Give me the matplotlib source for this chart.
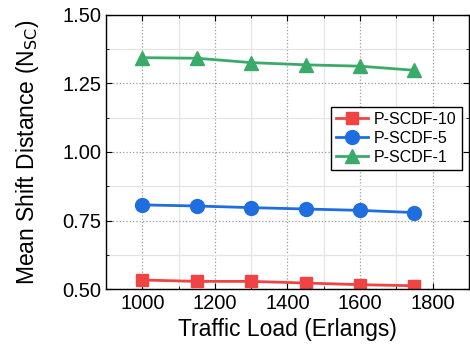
import matplotlib
matplotlib.use("Agg")
import matplotlib.pyplot as plt
from matplotlib.ticker import MultipleLocator

plt.rcParams['font.family'] = ['Liberation Sans', 'DejaVu Sans']

load = [1000, 1150, 1300, 1450, 1600, 1750]
p10 = [0.533, 0.528, 0.528, 0.522, 0.516, 0.512]
p5 = [0.807, 0.803, 0.797, 0.792, 0.787, 0.779]
p1 = [1.344, 1.342, 1.326, 1.318, 1.313, 1.298]
names = ['P-SCDF-10', 'P-SCDF-5', 'P-SCDF-1']

fig = plt.figure(figsize=(4.7, 3.47), dpi=100)
ax = fig.add_axes([0.2255, 0.167, 0.772, 0.79])

ax.plot(load, p10, color='#F04444', marker='s', ms=9, lw=2, label=names[0])
ax.plot(load, p5, color='#1E6EE0', marker='o', ms=10, lw=2, label=names[1])
ax.plot(load, p1, color='#3AAA68', marker='^', ms=10, lw=2, label=names[2])

ax.set_xlim(900, 1900)
ax.set_ylim(0.5, 1.5)
ax.xaxis.set_major_locator(MultipleLocator(200))
ax.xaxis.set_minor_locator(MultipleLocator(100))
ax.yaxis.set_major_locator(MultipleLocator(0.25))
ax.yaxis.set_minor_locator(MultipleLocator(0.125))
ax.set_xticks([1000, 1200, 1400, 1600, 1800])
ax.yaxis.set_major_formatter(matplotlib.ticker.FormatStrFormatter('%.2f'))

ax.grid(which='major', color='#999999', linestyle=':', linewidth=0.9)
ax.grid(which='minor', color='#e4e4e4', linestyle='-', linewidth=0.9)
ax.set_axisbelow(True)
ax.tick_params(which='both', direction='in', top=True, right=True, labelsize=14.5)
ax.tick_params(which='major', length=4)
ax.tick_params(which='minor', length=2.5)
for s in ax.spines.values():
    s.set_linewidth(1.0)

ax.set_xlabel('Traffic Load (Erlangs)', fontsize=16.5, labelpad=4)
ax.set_ylabel('Mean Shift Distance (N$_{\\mathrm{SC}}$)', fontsize=16.5, labelpad=15)

leg = ax.legend(loc='upper right', bbox_to_anchor=(0.98, 0.664), fontsize=11.5,
                frameon=True, fancybox=False, edgecolor='black', framealpha=1,
                handlelength=2.0, borderpad=0.3, labelspacing=0.25, handletextpad=0.4,
                borderaxespad=0)
leg.get_frame().set_linewidth(1.0)

fig.savefig('out.png', dpi=100)
